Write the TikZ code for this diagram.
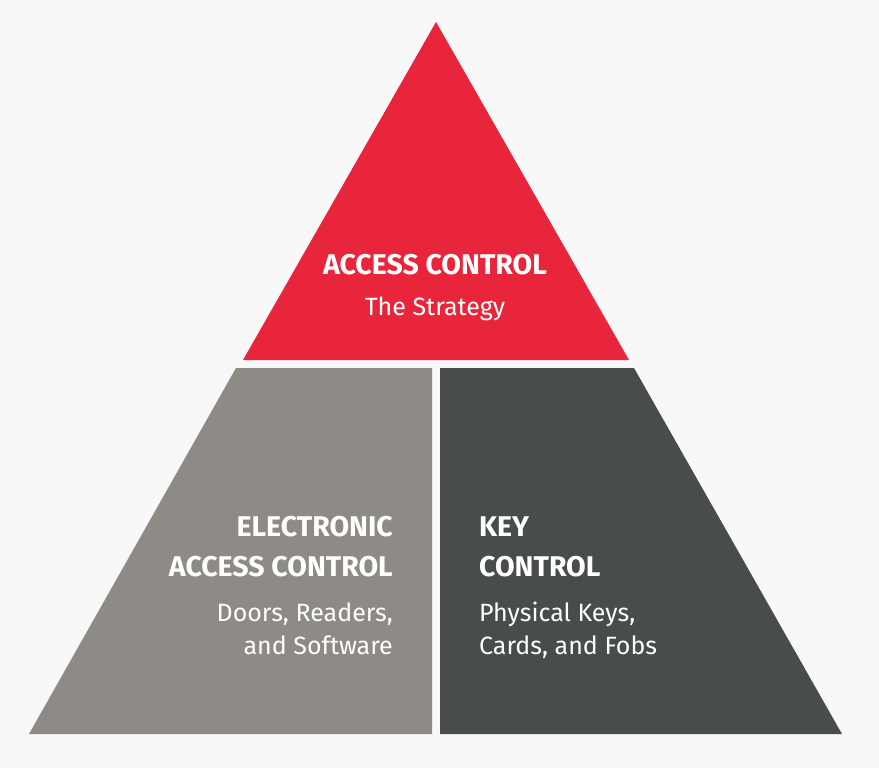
\documentclass[tikz,border=0pt]{standalone}
\usepackage{fontspec}
\setmainfont{Fira Sans}
\usetikzlibrary{positioning}
\definecolor{cbg}{HTML}{F8F8F8}
\definecolor{cred}{HTML}{E8253A}
\definecolor{cgrey}{HTML}{8E8B86}
\definecolor{cslate}{HTML}{494C4D}
\begin{document}
\begin{tikzpicture}[x=1pt, y=-1pt,
  head/.style={text=white, inner sep=0pt, font=\fontsize{28.5}{32}\selectfont\bfseries},
  sub/.style={text=white, inner sep=0pt, font=\fontsize{25}{29}\selectfont}]
\useasboundingbox[fill=cbg] (0,0) rectangle (879,768);
%% pyramid
\coordinate (apex) at (436,22);
\fill[cred] (apex) -- (629,360) -- (243,360) -- cycle;
\fill[cgrey] (236,368) -- (432,368) -- (432,734) -- (29,734) -- cycle;
\fill[cslate] (440,368) -- (634,368) -- (842,734) -- (440,734) -- cycle;
%% top
\node[head, anchor=base] (t1) at (435,274) {ACCESS CONTROL};
\node[sub, anchor=base] (t2) at (435,315) {The Strategy};
%% left
\node[head, anchor=base east] (l1) at (393,536) {ELECTRONIC};
\node[head, anchor=base east] (l2) at (393,576) {ACCESS CONTROL};
\node[sub, anchor=base east] (l3) at (393,621) {Doors, Readers,};
\node[sub, anchor=base east] (l4) at (393,654) {and Software};
%% right
\node[head, anchor=base west] (r1) at (479,536) {KEY};
\node[head, anchor=base west] (r2) at (479,576) {CONTROL};
\node[sub, anchor=base west] (r3) at (479,621) {Physical Keys,};
\node[sub, anchor=base west] (r4) at (479,654) {Cards, and Fobs};
\end{tikzpicture}
\end{document}
